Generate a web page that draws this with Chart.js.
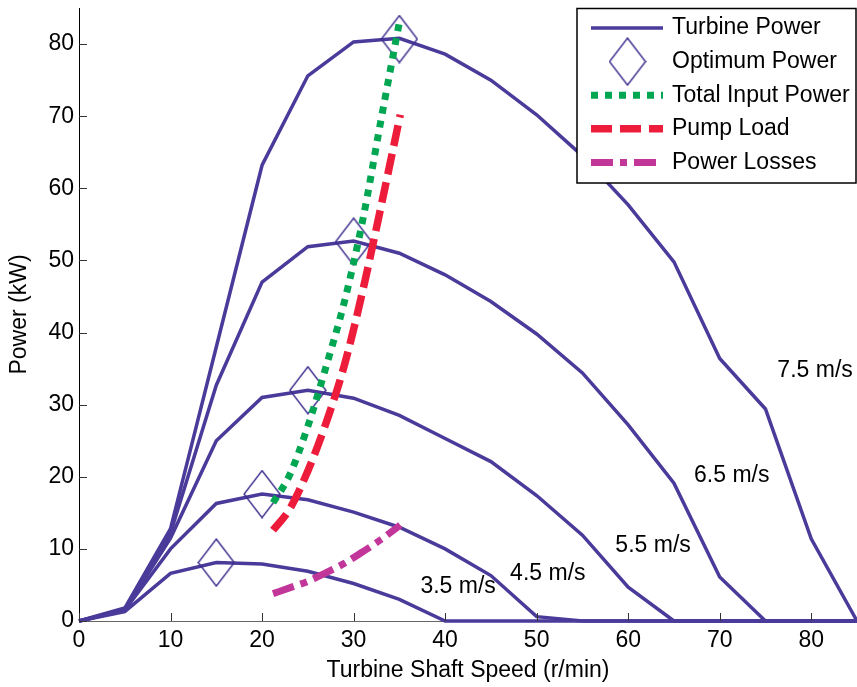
<!DOCTYPE html>
<html>
<head>
<meta charset="utf-8">
<script src="https://cdn.jsdelivr.net/npm/chart.js@4.4.1/dist/chart.umd.min.js"></script>
<style>
  html, body { margin: 0; padding: 0; background: #fff; }
  #wrap { width: 857px; height: 687px; position: relative; }
</style>
</head>
<body>
<div id="wrap"><canvas id="chart"></canvas></div>
<script>
// turbine shaft speed (r/min) for the power curves
const speeds = [0, 5, 10, 15, 20, 25, 30, 35, 40, 45, 50, 55, 60, 65, 70, 75, 80, 85];

// turbine power (kW) at each wind speed
const power35 = [0, 1.3, 6.6, 8.1, 7.9, 6.9, 5.2, 3.0, 0, 0, 0, 0, 0, 0, 0, 0, 0, 0];
const power45 = [0, 1.5, 10.0, 16.3, 17.6, 16.8, 15.1, 13.0, 10.0, 6.3, 0.6, 0, 0, 0, 0, 0, 0, 0];
const power55 = [0, 1.5, 11.5, 25.0, 31.0, 32.0, 30.9, 28.5, 25.3, 22.1, 17.4, 11.9, 4.7, 0, 0, 0, 0, 0];
const power65 = [0, 1.6, 12.2, 32.7, 47.0, 51.9, 52.7, 51.0, 48.0, 44.3, 39.8, 34.4, 27.2, 19.1, 6.1, 0, 0, 0];
const power75 = [0, 1.8, 12.8, 38.0, 63.2, 75.6, 80.3, 80.8, 78.6, 75.0, 70.2, 64.5, 57.7, 49.8, 36.4, 29.4, 11.4, 0];

const windLabels = ['3.5 m/s', '4.5 m/s', '5.5 m/s', '6.5 m/s', '7.5 m/s'];
const windLabelX = [37.3, 47.1, 58.6, 67.2, 76.3];
const windLabelY = [4.7, 6.6, 10.4, 20.1, 34.7];

// optimum operating points
const optimumSpeed = [15, 20, 25, 30, 35];
const optimumPower = [8.1, 17.6, 32.0, 52.6, 80.7];

// input / load / losses curves
const loadSpeed = [21.2, 23, 25, 27, 29, 31, 33, 35.1];
const inputPower = [16.4, 20.2, 27.0, 35.3, 44.3, 55.6, 69.5, 83.7];
const pumpPower = [12.6, 15.5, 20.8, 27.5, 35.5, 45.8, 57.5, 70.2];
const lossPower = [3.8, 4.6, 5.5, 6.7, 8.0, 9.6, 11.3, 13.3];

const xTicks = [0, 10, 20, 30, 40, 50, 60, 70, 80];
const yTicks = [0, 10, 20, 30, 40, 50, 60, 70, 80];

const PURPLE = '#4a3a9a';
const FONT = '"Liberation Sans", Arial, sans-serif';

function pts(xs, ys) {
    return xs.map((x, i) => ({ x: x, y: ys[i] }));
}

// tall diamond marker like the matlab one
function makeDiamond() {
    const c = document.createElement('canvas');
    c.width = 38; c.height = 49;
    const g = c.getContext('2d');
    g.strokeStyle = '#3a2c8c';
    g.lineWidth = 1.4;
    g.beginPath();
    g.moveTo(19, 1); g.lineTo(37, 24.5); g.lineTo(19, 48); g.lineTo(1, 24.5);
    g.closePath();
    g.stroke();
    return c;
}
const diamond = makeDiamond();

const turbineSets = [power35, power45, power55, power65, power75].map((p, i) => ({
    label: 'Turbine Power',
    inLegend: i === 0,
    data: pts(speeds, p),
    borderColor: PURPLE,
    borderWidth: 3.5,
    pointRadius: 0,
    clip: false,
    order: 5
}));

const datasets = turbineSets.concat([
    {
        label: 'Optimum Power',
        inLegend: true,
        data: pts(optimumSpeed, optimumPower),
        showLine: false,
        pointStyle: diamond,
        pointRadius: 20,
        borderColor: PURPLE,
        clip: false,
        order: 4
    },
    {
        label: 'Total Input Power',
        inLegend: true,
        data: pts(loadSpeed, inputPower),
        borderColor: '#00a651',
        borderWidth: 7,
        borderDash: [7, 7],
        borderCapStyle: 'butt',
        cubicInterpolationMode: 'monotone',
        pointRadius: 0,
        clip: false,
        order: 3
    },
    {
        label: 'Pump Load',
        inLegend: true,
        data: pts(loadSpeed, pumpPower),
        borderColor: '#ed1c3a',
        borderWidth: 7.5,
        borderDash: [21, 8],
        borderCapStyle: 'butt',
        cubicInterpolationMode: 'monotone',
        pointRadius: 0,
        clip: false,
        order: 2
    },
    {
        label: 'Power Losses',
        inLegend: true,
        data: pts(loadSpeed, lossPower),
        borderColor: '#c2369a',
        borderWidth: 7,
        borderDash: [22, 7, 7, 7],
        borderCapStyle: 'butt',
        cubicInterpolationMode: 'monotone',
        pointRadius: 0,
        clip: false,
        order: 1
    }
]);

// matlab style ticks pointing into the plot
const innerTicks = {
    id: 'innerTicks',
    afterDraw(chart) {
        const ctx = chart.ctx;
        const a = chart.chartArea;
        const xs = chart.scales.x, ys = chart.scales.y;
        ctx.save();
        ctx.strokeStyle = '#333';
        ctx.lineWidth = 1;
        ctx.beginPath();
        xTicks.forEach(v => {
            const px = Math.round(xs.getPixelForValue(v)) + 0.5;
            ctx.moveTo(px, a.bottom); ctx.lineTo(px, a.bottom - 8);
        });
        yTicks.forEach(v => {
            const py = Math.round(ys.getPixelForValue(v)) + 0.5;
            ctx.moveTo(a.left, py); ctx.lineTo(a.left + 8, py);
        });
        ctx.stroke();
        ctx.restore();
    }
};

// wind speed labels next to each curve
const windText = {
    id: 'windText',
    afterDatasetsDraw(chart) {
        const ctx = chart.ctx;
        const xs = chart.scales.x, ys = chart.scales.y;
        ctx.save();
        ctx.font = '23px ' + FONT;
        ctx.fillStyle = '#000';
        ctx.textAlign = 'left';
        ctx.textBaseline = 'middle';
        windLabels.forEach((t, i) => {
            ctx.fillText(t, xs.getPixelForValue(windLabelX[i]), ys.getPixelForValue(windLabelY[i]));
        });
        ctx.restore();
    }
};

// boxed legend in the upper right corner
const boxLegend = {
    id: 'boxLegend',
    afterDraw(chart) {
        const ctx = chart.ctx;
        const L = 577, T = 8.5, R = 856, B = 183;
        ctx.save();
        ctx.fillStyle = '#fff';
        ctx.fillRect(L, T, R - L, B - T);
        ctx.strokeStyle = '#000';
        ctx.lineWidth = 1.5;
        ctx.strokeRect(L, T, R - L, B - T);
        const items = chart.data.datasets.filter(ds => ds.inLegend);
        items.forEach((ds, i) => {
            const y = 28 + i * 33.6;
            if (ds.pointStyle) {
                ctx.drawImage(ds.pointStyle, 627.5 - ds.pointStyle.width / 2, y - ds.pointStyle.height / 2);
            } else {
                ctx.beginPath();
                ctx.strokeStyle = ds.borderColor;
                ctx.lineWidth = ds.borderWidth;
                ctx.lineCap = 'butt';
                ctx.setLineDash(ds.borderDash || []);
                ctx.moveTo(591, y);
                ctx.lineTo(663, y);
                ctx.stroke();
                ctx.setLineDash([]);
            }
            ctx.font = '23px ' + FONT;
            ctx.fillStyle = '#000';
            ctx.textAlign = 'left';
            ctx.textBaseline = 'middle';
            ctx.fillText(ds.label, 672, y);
        });
        ctx.restore();
    }
};

const ctx = document.getElementById('chart').getContext('2d');
const chart = new Chart(ctx, {
    type: 'line',
    data: { datasets: datasets },
    plugins: [innerTicks, windText, boxLegend],
    options: {
        responsive: true,
        maintainAspectRatio: false,
        animation: false,
        layout: { autoPadding: false, padding: { top: 8, right: 0, bottom: 0, left: 0 } },
        plugins: {
            legend: { display: false },
            tooltip: { enabled: false }
        },
        elements: { line: { tension: 0 } },
        scales: {
            x: {
                type: 'linear',
                min: 0,
                max: 85,
                afterFit: s => { s.height = 66; s.paddingLeft = 0; s.paddingRight = 0; },
                grid: { display: true, drawOnChartArea: false, drawTicks: false },
                border: { color: '#666', width: 1 },
                ticks: {
                    stepSize: 10,
                    includeBounds: false,
                    padding: 6,
                    color: '#000',
                    font: { family: FONT, size: 23 }
                },
                title: {
                    display: true,
                    text: 'Turbine Shaft Speed (r/min)',
                    color: '#000',
                    font: { family: FONT, size: 23 },
                    padding: { top: 0, bottom: 3 }
                }
            },
            y: {
                type: 'linear',
                min: 0,
                max: 85,
                afterFit: s => { s.width = 79; s.paddingTop = 0; s.paddingBottom = 0; },
                grid: { display: true, drawOnChartArea: false, drawTicks: false },
                border: { color: '#000', width: 1 },
                ticks: {
                    stepSize: 10,
                    includeBounds: false,
                    padding: 5,
                    color: '#000',
                    font: { family: FONT, size: 23 }
                },
                title: {
                    display: true,
                    text: 'Power (kW)',
                    color: '#000',
                    font: { family: FONT, size: 23 },
                    padding: { top: 6, bottom: 0 }
                }
            }
        }
    }
});
</script>
</body>
</html>
